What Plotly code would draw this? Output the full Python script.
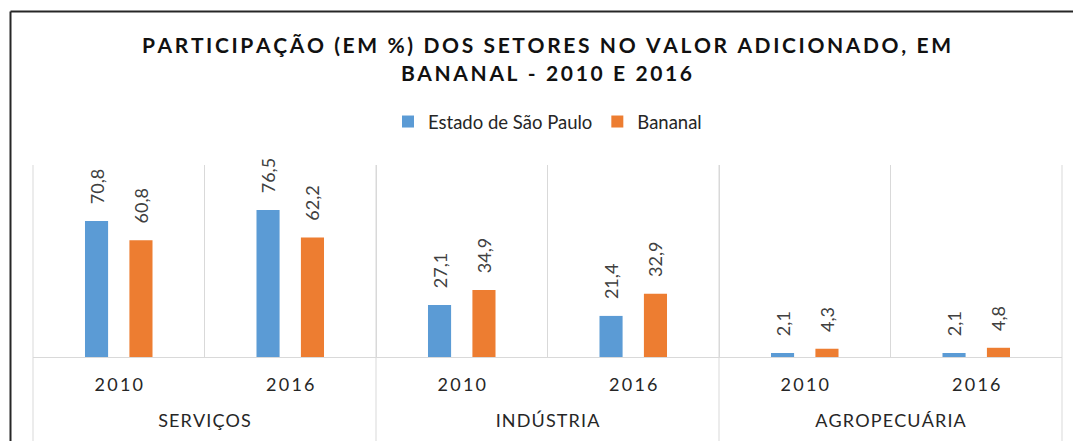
import plotly.graph_objects as go

# Sector / year structure of the grouped bars
setores = ["SERVIÇOS", "SERVIÇOS", "INDÚSTRIA", "INDÚSTRIA", "AGROPECUÁRIA", "AGROPECUÁRIA"]
anos = ["2010", "2016", "2010", "2016", "2010", "2016"]

# Share (%) of each sector in value added
estado_sp = [70.8, 76.5, 27.1, 21.4, 2.1, 2.1]
bananal = [60.8, 62.2, 34.9, 32.9, 4.3, 4.8]

titulo_l1 = "PARTICIPAÇÃO (EM %) DOS SETORES NO VALOR ADICIONADO, EM"
titulo_l2 = "BANANAL - 2010 E 2016"

AZUL = "#5B9BD5"
LARANJA = "#ED7D31"
GRADE = "#D9D9D9"
TEXTO = "#404040"
FONTE = "Lato"


def espacado(s, sep="\u200a"):
    """Letter-spaced version of a label."""
    return sep.join(s)


# Sector names sit on a second line so they drop well below the years
x_cats = [["\u00a0<br>" + espacado(s) for s in setores], [espacado(a, "\u2009") for a in anos]]

fig = go.Figure()
for nome, vals, cor in [("Estado de São Paulo", estado_sp, AZUL), ("Bananal", bananal, LARANJA)]:
    fig.add_trace(go.Bar(
        x=x_cats,
        y=vals,
        name=nome,
        marker=dict(color=cor, line=dict(width=0)),
        texttemplate="\u00a0\u00a0\u00a0%{y:.1f}",
        textposition="outside",
        textangle=-90,
        constraintext="none",
        cliponaxis=False,
        textfont=dict(family=FONTE, size=18, color=TEXTO),
        hoverinfo="skip",
    ))

fig.update_layout(
    width=1073,
    height=441,
    margin=dict(l=33, r=11, t=165, b=84),
    paper_bgcolor="white",
    plot_bgcolor="white",
    separators=",.",
    barmode="group",
    bargap=0.482,
    bargroupgap=0.48,
    title=dict(
        text="<b>" + espacado(titulo_l1, "\u2009") + "<br>" + espacado(titulo_l2, "\u2009") + "</b>",
        x=0.5093, xanchor="center",
        y=0.879, yanchor="middle",
        font=dict(family=FONTE, size=21, color="#111111"),
    ),
    legend=dict(
        orientation="h",
        x=0.5, xanchor="center",
        y=1.224, yanchor="middle",
        font=dict(family=FONTE, size=18.5, color="#262626"),
        itemwidth=30,
        traceorder="normal",
    ),
    showlegend=True,
)

fig.update_xaxes(
    type="multicategory",
    tickson="boundaries",
    showgrid=True,
    gridcolor=GRADE,
    gridwidth=1,
    showline=True,
    linecolor=GRADE,
    linewidth=1,
    ticks="",
    ticklabelstandoff=11,
    showdividers=False,
    tickfont=dict(family=FONTE, size=18, color="#262626"),
)
fig.update_yaxes(
    range=[0, 100],
    showgrid=False,
    showticklabels=False,
    zeroline=False,
    showline=False,
)

# Dividers between sectors, running down through the label rows
for xp in [0, 1 / 3, 2 / 3, 1]:
    fig.add_shape(type="line", xref="paper", yref="paper",
                  x0=xp, x1=xp, y0=-84 / 192, y1=1,
                  line=dict(color=GRADE, width=1), layer="below")

# Outer frame (left and top edges)
fx = (10.5 - 33) / 1029
fy = 1 + (165 - 11.5) / 192
fig.add_shape(type="line", xref="paper", yref="paper",
              x0=fx, x1=fx, y0=-84 / 192, y1=fy,
              line=dict(color="#262626", width=2))
fig.add_shape(type="line", xref="paper", yref="paper",
              x0=fx, x1=(1073 - 33) / 1029, y0=fy, y1=fy,
              line=dict(color="#262626", width=2))

fig.write_html("out.html")
